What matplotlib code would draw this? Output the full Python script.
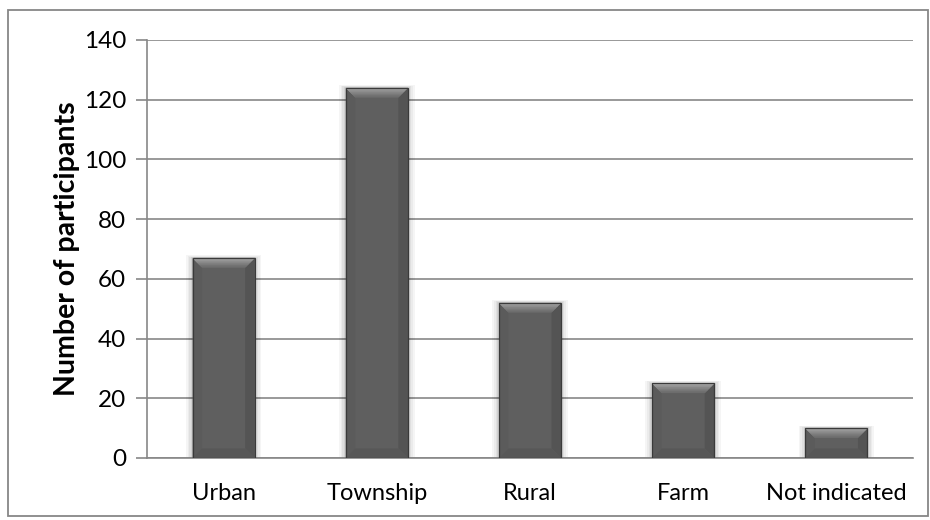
import matplotlib
matplotlib.use("Agg")
import matplotlib.pyplot as plt
import numpy as np
from matplotlib.patches import Polygon, Rectangle
from matplotlib.colors import to_rgb

categories = ["Urban", "Township", "Rural", "Farm", "Not indicated"]
participants = [67, 124, 52, 25, 10]
y_ticks = [0, 20, 40, 60, 80, 100, 120, 140]

plt.rcParams['font.family'] = ['Lato', 'DejaVu Sans']

fig = plt.figure(figsize=(9.3, 5.2), dpi=100)
W, H = 930, 520

# outer chart frame
fig.patches.append(Rectangle((8 / W, 4 / H), 920 / W, 506 / H, transform=fig.transFigure,
                             fill=False, edgecolor="#878787", linewidth=1.3))

ax = fig.add_axes([147 / W, (H - 458) / H, (913 - 147) / W, (458 - 40) / H])

x = np.arange(len(categories))
bar_w = 0.405
ymax = 140

for sp in ["top", "right"]:
    ax.spines[sp].set_visible(False)
ax.spines["left"].set_color("#878787")
ax.spines["bottom"].set_color("#878787")
ax.spines["left"].set_linewidth(1.2)
ax.spines["bottom"].set_linewidth(1.2)

ax.set_ylim(0, ymax)
ax.set_xlim(-0.5, len(categories) - 0.5)
ax.set_yticks(y_ticks)
ax.yaxis.grid(True, color="#878787", linewidth=1.2)
ax.set_axisbelow(True)
ax.tick_params(axis="y", direction="out", length=8, width=1.2, color="#878787",
               labelsize=17.5, pad=7)
ax.tick_params(axis="x", length=0, labelsize=17, pad=18)
ax.set_xticks(x)
ax.set_xticklabels(categories)
ax.set_ylabel("Number of participants", fontsize=20.5, fontweight="bold")
ax.yaxis.set_label_coords(-0.088, 0.5)


def mix(c1, c2, t):
    a, b = np.array(to_rgb(c1)), np.array(to_rgb(c2))
    return tuple(a + (b - a) * t)


# bevel sizes in data units
bx = 0.062
by = 3.2
n_strips = 14

for xi, h in zip(x, participants):
    x0, x1 = xi - bar_w / 2, xi + bar_w / 2
    # soft shadow
    for k, a in enumerate([0.04, 0.04, 0.05, 0.06]):
        e = (4 - k) * 0.011
        ax.add_patch(Rectangle((x0 - e, -1), (x1 - x0) + 2 * e, h + 1 + e * 20,
                               facecolor="#000000", alpha=a, edgecolor="none", zorder=2))
    ax.bar(xi, h, width=bar_w, color="#5f5f5f", edgecolor="none", zorder=3)
    bh = min(by, h / 2.5)
    # side bevels
    ax.add_patch(Polygon([(x0, 0), (x0 + bx, bh), (x0 + bx, h - bh), (x0, h)],
                         closed=True, facecolor="#5b5b5b", edgecolor="none", zorder=4))
    ax.add_patch(Polygon([(x1, 0), (x1 - bx, bh), (x1 - bx, h - bh), (x1, h)],
                         closed=True, facecolor="#545454", edgecolor="none", zorder=4))
    ax.add_patch(Polygon([(x0, 0), (x1, 0), (x1 - bx, bh), (x0 + bx, bh)],
                         closed=True, facecolor="#575757", edgecolor="none", zorder=4))
    # top bevel: stacked trapezoid strips, light at the rim fading into the body
    for s in range(n_strips):
        t0, t1 = s / n_strips, (s + 1) / n_strips
        ya, yb = h - bh * t0, h - bh * t1
        pa, pb = bx * t0, bx * t1
        tm = ((t0 + t1) / 2) ** 0.8
        col = mix("#b4b4b4", "#6c6c6c", tm)
        ax.add_patch(Polygon([(x0 + pa, ya), (x1 - pa, ya), (x1 - pb, yb), (x0 + pb, yb)],
                             closed=True, facecolor=col, edgecolor=col, linewidth=0.3,
                             zorder=5))
    # outline
    ax.add_patch(Rectangle((x0, 0), x1 - x0, h, fill=False, edgecolor="#3a3a3a",
                           linewidth=0.9, zorder=6))

ax.set_ylim(0, ymax)
ax.set_xlim(-0.5, len(categories) - 0.5)

fig.savefig("out.png", dpi=100)
